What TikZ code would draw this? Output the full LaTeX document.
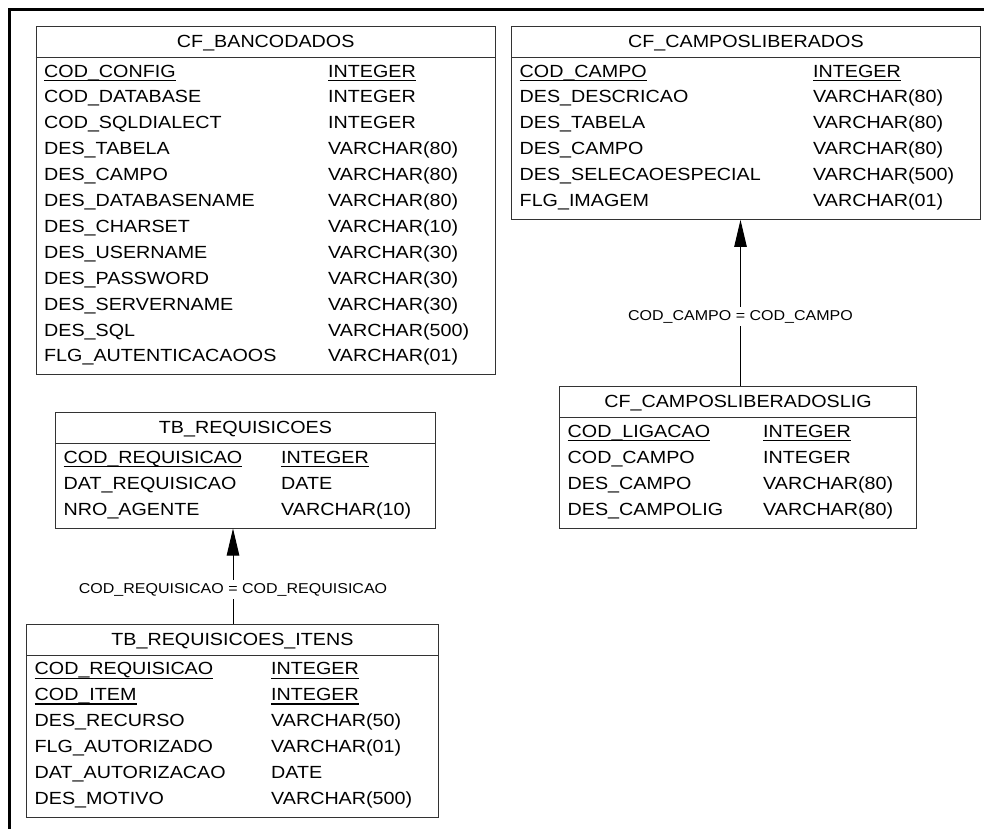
\documentclass[tikz,border=0pt]{standalone}
\usepackage{fontspec}
\setmainfont{Liberation Sans}[FakeStretch=1.12]
\usetikzlibrary{arrows.meta}

\tikzset{
  tablebox/.style={draw=black!80, line width=0.9pt, inner sep=0pt},
  tableline/.style={draw=black!80, line width=0.9pt},
  cell/.style={inner sep=0pt, font=\fontsize{17.6}{20}\selectfont},
  keyline/.style={draw=black, line width=1.2pt},
  relline/.style={draw=black, line width=1pt, {Triangle[length=27pt,width=12.5pt]}-},
  rellabel/.style={fill=white, inner xsep=2pt, inner ysep=2.5pt, text height=11pt,
    text depth=3pt, font=\fontsize{14.3}{16}\selectfont},
  framestroke/.style={draw=black, line width=2.7pt}
}

% one entity: #1 name, #2 left x, #3 right x, #4 top y, #5 number of rows, #6 title
\newcommand\erdtable[6]{%
  \pgfmathsetmacro\erdw{#3-#2}%
  \pgfmathsetmacro\erdh{51.3+(#5-1)*25.9+12.5}%
  \node[tablebox, anchor=north west, minimum width=\erdw pt, minimum height=\erdh pt] (#1) at (#2,#4) {};
  \draw[tableline] ([yshift=-31.5pt]#1.north west) -- ([yshift=-31.5pt]#1.north east);
  \node[cell, anchor=base] (#1-title) at ([yshift=-21.9pt]#1.north) {#6};
}
% one attribute row: #1 table, #2 row index, #3 offset of the type column, #4 column, #5 type
\newcommand\erdrow[5]{%
  \pgfmathsetmacro\erdy{51.3+(#2-1)*25.9}%
  \node[cell, anchor=base west] (#1-n#2) at ([xshift=8.5pt, yshift=-\erdy pt]#1.north west) {#4};
  \node[cell, anchor=base west] (#1-t#2) at ([xshift=#3pt, yshift=-\erdy pt]#1.north west) {#5};
}
% primary-key row: same as a row, with both cells underlined
\newcommand\erdkey[5]{%
  \erdrow{#1}{#2}{#3}{#4}{#5}
  \draw[keyline] ([yshift=-3.3pt]#1-n#2.base west) -- ([yshift=-3.3pt]#1-n#2.base east);
  \draw[keyline] ([yshift=-3.3pt]#1-t#2.base west) -- ([yshift=-3.3pt]#1-t#2.base east);
}

\begin{document}
\begin{tikzpicture}[x=1pt, y=-1pt]
\useasboundingbox (0,0) rectangle (984,828);

% page frame (top and left edges)
\draw[framestroke] (9.5,835) -- (9.5,9.5) -- (995,9.5);

% CF_BANCODADOS
\erdtable{banco}{35.5}{495}{25.7}{12}{CF\_BANCODADOS}
\erdkey{banco}{1}{292.5}{COD\_CONFIG}{INTEGER}
\erdrow{banco}{2}{292.5}{COD\_DATABASE}{INTEGER}
\erdrow{banco}{3}{292.5}{COD\_SQLDIALECT}{INTEGER}
\erdrow{banco}{4}{292.5}{DES\_TABELA}{VARCHAR(80)}
\erdrow{banco}{5}{292.5}{DES\_CAMPO}{VARCHAR(80)}
\erdrow{banco}{6}{292.5}{DES\_DATABASENAME}{VARCHAR(80)}
\erdrow{banco}{7}{292.5}{DES\_CHARSET}{VARCHAR(10)}
\erdrow{banco}{8}{292.5}{DES\_USERNAME}{VARCHAR(30)}
\erdrow{banco}{9}{292.5}{DES\_PASSWORD}{VARCHAR(30)}
\erdrow{banco}{10}{292.5}{DES\_SERVERNAME}{VARCHAR(30)}
\erdrow{banco}{11}{292.5}{DES\_SQL}{VARCHAR(500)}
\erdrow{banco}{12}{292.5}{FLG\_AUTENTICACAOOS}{VARCHAR(01)}

% CF_CAMPOSLIBERADOS
\erdtable{camp}{511}{980}{25.7}{6}{CF\_CAMPOSLIBERADOS}
\erdkey{camp}{1}{302}{COD\_CAMPO}{INTEGER}
\erdrow{camp}{2}{302}{DES\_DESCRICAO}{VARCHAR(80)}
\erdrow{camp}{3}{302}{DES\_TABELA}{VARCHAR(80)}
\erdrow{camp}{4}{302}{DES\_CAMPO}{VARCHAR(80)}
\erdrow{camp}{5}{302}{DES\_SELECAOESPECIAL}{VARCHAR(500)}
\erdrow{camp}{6}{302}{FLG\_IMAGEM}{VARCHAR(01)}

% CF_CAMPOSLIBERADOSLIG
\erdtable{lig}{559}{916}{386}{4}{CF\_CAMPOSLIBERADOSLIG}
\erdkey{lig}{1}{204}{COD\_LIGACAO}{INTEGER}
\erdrow{lig}{2}{204}{COD\_CAMPO}{INTEGER}
\erdrow{lig}{3}{204}{DES\_CAMPO}{VARCHAR(80)}
\erdrow{lig}{4}{204}{DES\_CAMPOLIG}{VARCHAR(80)}

% TB_REQUISICOES
\erdtable{req}{55}{435}{412}{3}{TB\_REQUISICOES}
\erdkey{req}{1}{226}{COD\_REQUISICAO}{INTEGER}
\erdrow{req}{2}{226}{DAT\_REQUISICAO}{DATE}
\erdrow{req}{3}{226}{NRO\_AGENTE}{VARCHAR(10)}

% TB_REQUISICOES_ITENS
\erdtable{itens}{26}{438}{623.5}{6}{TB\_REQUISICOES\_ITENS}
\erdkey{itens}{1}{245}{COD\_REQUISICAO}{INTEGER}
\erdkey{itens}{2}{245}{COD\_ITEM}{INTEGER}
\erdrow{itens}{3}{245}{DES\_RECURSO}{VARCHAR(50)}
\erdrow{itens}{4}{245}{FLG\_AUTORIZADO}{VARCHAR(01)}
\erdrow{itens}{5}{245}{DAT\_AUTORIZACAO}{DATE}
\erdrow{itens}{6}{245}{DES\_MOTIVO}{VARCHAR(500)}

% references (child -> parent)
\coordinate (ax1) at (740.5,0);
\coordinate (ax2) at (233,0);
\draw[relline] (camp.south -| ax1) -- node[pos=0.58, rellabel] (rel1) {COD\_CAMPO = COD\_CAMPO} (lig.north -| ax1);
\draw[relline] (req.south -| ax2) -- node[pos=0.64, rellabel] (rel2) {COD\_REQUISICAO = COD\_REQUISICAO} (itens.north -| ax2);
\end{tikzpicture}
\end{document}
